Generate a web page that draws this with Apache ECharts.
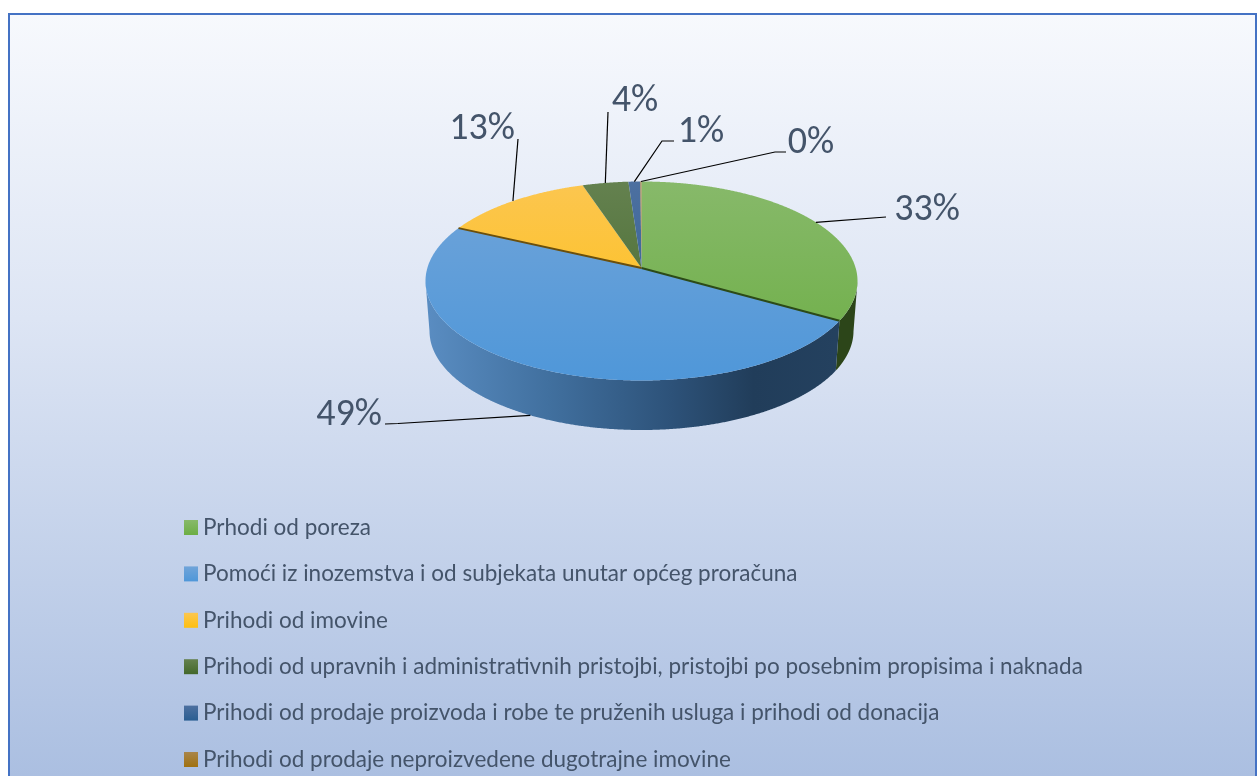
<!DOCTYPE html>
<html>
<head>
<meta charset="utf-8">
<title>Prihodi</title>
<style>
html, body { margin: 0; padding: 0; background: #fff; overflow: hidden; }
#main { width: 1257px; height: 776px; }
</style>
<script src="https://cdn.jsdelivr.net/npm/echarts@6/dist/echarts.min.js"></script>
</head>
<body>
<div id="main"></div>
<script>
// podaci
var categories = [
	'Prhodi od poreza',
	'Pomoći iz inozemstva i od subjekata unutar općeg proračuna',
	'Prihodi od imovine',
	'Prihodi od upravnih i administrativnih pristojbi, pristojbi po posebnim propisima i naknada',
	'Prihodi od prodaje proizvoda i robe te pruženih usluga i prihodi od donacija',
	'Prihodi od prodaje neproizvedene dugotrajne imovine'
];
var shares = [33.4, 48.7, 12.9, 3.9, 1, 0.1];

// boje: vrh kriške (gore, dolje)
var topColors = [
	['#87b96a', '#6cae44'],
	['#70a4d9', '#4f97d9'],
	['#fcc650', '#fdbf10'],
	['#64814f', '#43682b'],
	['#4d70a0', '#2a5e92'],
	['#a9854a', '#a0710f']
];
// elbow i sredina teksta za svaku oznaku
var leaderPoints = [
	[[886, 217]],
	[[398, 423.5], [385, 424]],
	[[518, 139]],
	[[608, 112]],
	[[662, 141], [674, 141]],
	[[775, 152], [786, 152]]
];
var labelPos = [[927, 210], [349, 415], [482, 129], [635, 101], [701, 132], [811, 143]];

var PIE = { cx: 641.5, cy: 281, rx: 216, ry: 99.5, apex: -0.13, baseCy: 331, baseRx: 212, baseRy: 99 };

var total = shares.reduce(function (a, b) { return a + b; }, 0);

// perspektiva: krug -> elipsa, sredina kruga pada u vrh (apex)
function project(angle) {
	var u = Math.sin(angle);
	var v = -Math.cos(angle);
	var d = 1 + v * PIE.apex;
	return [u * Math.sqrt(1 - PIE.apex * PIE.apex) / d, (v + PIE.apex) / d];
}
function topPoint(p) {
	return [PIE.cx + p[0] * PIE.rx, PIE.cy + p[1] * PIE.ry];
}
function basePoint(p) {
	return [PIE.cx + p[0] * PIE.baseRx, PIE.baseCy + p[1] * PIE.baseRy];
}
function vGradient(c, global) {
	return new echarts.graphic.LinearGradient(0, global ? 182 : 0, 0, global ? 381 : 1, [
		{ offset: 0, color: c[0] },
		{ offset: 1, color: c[1] }
	], !!global);
}

var blueWall = new echarts.graphic.LinearGradient(425, 0, 836, 0, [
	{ offset: 0, color: '#5a8dc2' },
	{ offset: 0.3, color: '#41709f' },
	{ offset: 0.6, color: '#2d5279' },
	{ offset: 0.8, color: '#213d5a' },
	{ offset: 1, color: '#24415f' }
], true);
var wallFill = ['#2c4519', blueWall, null, null, null, null];
// tamni rub izmedu kriski: [boja, koji kraj]
var edgeStyle = [['#2c4a18', 'end'], null, ['#6b4f0c', 'start'], null, null, null];

function makeRender(idx, startVal) {
	var a0 = startVal / total * Math.PI * 2;
	var a1 = (startVal + shares[idx]) / total * Math.PI * 2;
	return function () {
		var children = [];
		var rim = [];
		var n = Math.max(2, Math.ceil((a1 - a0) / 0.005));
		for (var i = 0; i <= n; i++) {
			rim.push(project(a0 + (a1 - a0) * i / n));
		}
		var apex = [PIE.cx, PIE.cy + PIE.apex * PIE.ry];

		if (wallFill[idx]) {
			var front = rim.filter(function (p) { return p[1] >= 0; });
			var wall = front.map(topPoint).concat(front.map(basePoint).reverse());
			children.push({ type: 'polygon', shape: { points: wall }, style: { fill: wallFill[idx] } });
		}

		children.push({
			type: 'polygon',
			shape: { points: [apex].concat(rim.map(topPoint)) },
			style: { fill: vGradient(topColors[idx], true) }
		});

		if (edgeStyle[idx]) {
			var edgeEnd = topPoint(edgeStyle[idx][1] === 'end' ? rim[rim.length - 1] : rim[0]);
			children.push({
				type: 'line',
				z2: 10,
				shape: { x1: apex[0], y1: apex[1], x2: edgeEnd[0], y2: edgeEnd[1] },
				style: { stroke: edgeStyle[idx][0], lineWidth: 2 }
			});
		}

		// oznaka s linijom
		var mid = project((a0 + a1) / 2);
		var anchor = mid[1] > 0 ? basePoint(mid) : topPoint(mid);
		children.push({
			type: 'polyline',
			z2: 11,
			shape: { points: [anchor].concat(leaderPoints[idx]) },
			style: { stroke: '#000', lineWidth: 1.2, fill: null }
		});
		children.push({
			type: 'text',
			z2: 12,
			style: {
				x: labelPos[idx][0],
				y: labelPos[idx][1],
				text: Math.round(shares[idx] / total * 100) + '%',
				fill: '#44546a',
				font: '38px Carlito, Calibri, Lato, sans-serif',
				align: 'center',
				verticalAlign: 'middle'
			}
		});
		return { type: 'group', children: children };
	};
}

var series = [];
var acc = 0;
categories.forEach(function (name, i) {
	series.push({
		type: 'custom',
		name: name,
		coordinateSystem: 'none',
		silent: true,
		animation: false,
		itemStyle: { color: vGradient(topColors[i]) },
		renderItem: makeRender(i, acc),
		data: [[shares[i]]]
	});
	acc += shares[i];
});

var chart = echarts.init(document.getElementById('main'));
chart.setOption({
	animation: false,
	graphic: [{
		type: 'rect',
		z: -10,
		shape: { x: 9, y: 14, width: 1247, height: 780 },
		style: {
			fill: new echarts.graphic.LinearGradient(0, 14, 0, 776, [
				{ offset: 0, color: '#f7f9fd' },
				{ offset: 0.4, color: '#dde5f4' },
				{ offset: 1, color: '#abbfe1' }
			], true),
			stroke: '#4472c4',
			lineWidth: 2
		}
	}],
	legend: {
		orient: 'vertical',
		left: 184,
		top: 516,
		padding: 0,
		height: 400,
		itemWidth: 14,
		itemHeight: 15,
		itemGap: 23.4,
		icon: 'rect',
		selectedMode: false,
		data: categories,
		textStyle: {
			color: '#44546a',
			fontSize: 22.5,
			fontFamily: 'Lato, "Open Sans", sans-serif'
		}
	},
	series: series
});
</script>
</body>
</html>
